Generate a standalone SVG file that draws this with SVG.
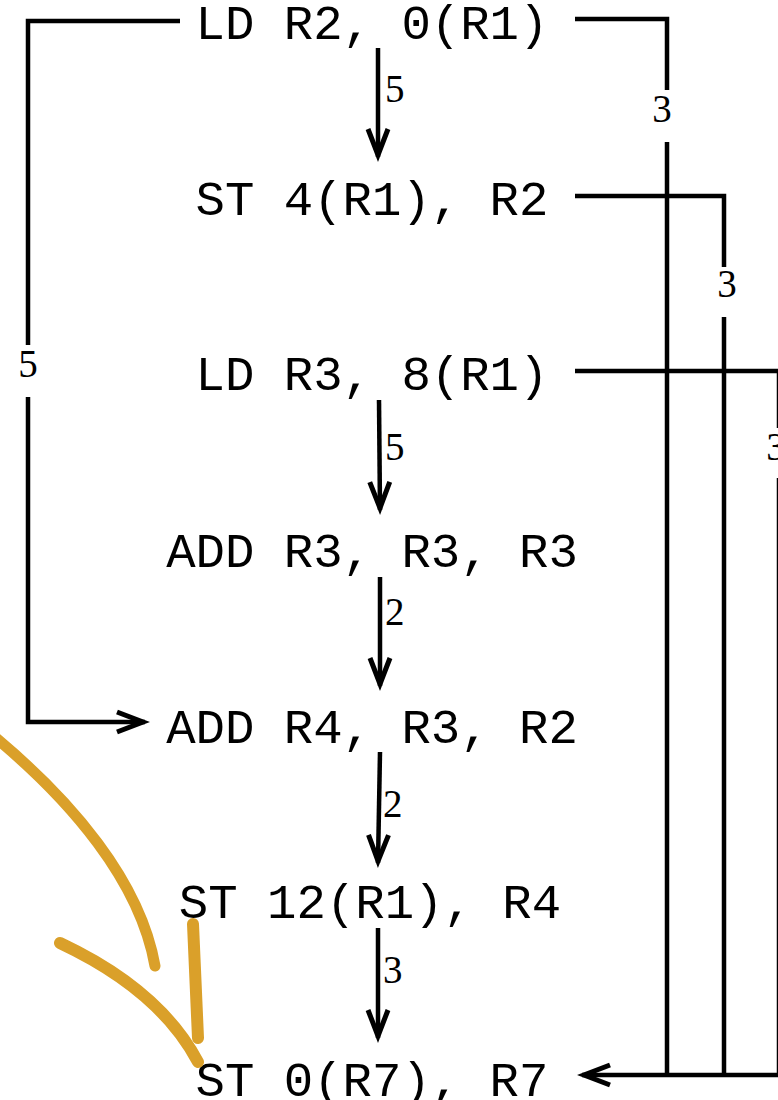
<svg xmlns="http://www.w3.org/2000/svg" width="778" height="1100" viewBox="0 0 778 1100">
  <defs>
    <style>
      .instr { font-family: "Liberation Mono", "Courier New", monospace; font-size: 49px; fill: #000; text-anchor: middle; }
      .lat { font-family: "Liberation Serif", "Times New Roman", serif; font-size: 39px; fill: #000; }
      .wire { fill: none; stroke: #000; stroke-width: 4.5; stroke-linejoin: miter; }
      .ink { fill: none; stroke: #DAA02A; stroke-linecap: round; }
    </style>
    <marker id="head" markerUnits="userSpaceOnUse" markerWidth="40" markerHeight="30" viewBox="-30 -15 40 30" refX="2" refY="0" orient="auto">
      <path d="M-26,-10 L0,0 L-26,10" fill="none" stroke="#000" stroke-width="5" stroke-linejoin="miter"/>
    </marker>
    <filter id="soft" x="-10%" y="-10%" width="120%" height="120%">
      <feGaussianBlur stdDeviation="0.7"/>
    </filter>
  </defs>

  <rect width="778" height="1100" fill="#fff"/>

  <!-- dependence edges -->
  <g id="connectors">
    <path class="wire" d="M378,48 V157" marker-end="url(#head)"/>
    <path class="wire" d="M379,400 L380,510" marker-end="url(#head)"/>
    <path class="wire" d="M380,577 V686" marker-end="url(#head)"/>
    <path class="wire" d="M380,752 L378,863" marker-end="url(#head)"/>
    <path class="wire" d="M378,928 V1038" marker-end="url(#head)"/>

    <path class="wire" d="M180,21 H28 V345"/>
    <path class="wire" d="M28,397 V722 H145" marker-end="url(#head)"/>

    <path class="wire" d="M575,19 H667 V90"/>
    <path class="wire" d="M667,142 V1075"/>
    <path class="wire" d="M575,196 H724 V267"/>
    <path class="wire" d="M724,317 V1075"/>
    <path class="wire" d="M575,371 H779 V428"/>
    <path class="wire" d="M779,478 V1075"/>
    <path class="wire" d="M781,1075 H582" marker-end="url(#head)"/>

    <text class="lat" x="385" y="102">5</text>
    <text class="lat" x="385" y="460">5</text>
    <text class="lat" x="385" y="625">2</text>
    <text class="lat" x="383" y="817">2</text>
    <text class="lat" x="383" y="983">3</text>
    <text class="lat" x="28" y="377" text-anchor="middle">5</text>
    <text class="lat" x="662" y="122" text-anchor="middle">3</text>
    <text class="lat" x="727" y="297" text-anchor="middle">3</text>
    <text class="lat" x="776" y="460" text-anchor="middle">3</text>
  </g>

  <!-- instructions -->
  <g id="n1"><text class="instr" x="372" y="39">LD R2, 0(R1)</text></g>
  <g id="n2"><text class="instr" x="372" y="215">ST 4(R1), R2</text></g>
  <g id="n3"><text class="instr" x="372" y="390">LD R3, 8(R1)</text></g>
  <g id="n4"><text class="instr" x="372" y="567">ADD R3, R3, R3</text></g>
  <g id="n5"><text class="instr" x="372" y="743">ADD R4, R3, R2</text></g>
  <g id="n6"><text class="instr" x="370" y="918">ST 12(R1), R4</text></g>
  <g id="n7"><text class="instr" x="372" y="1096">ST 0(R7), R7</text></g>

  <!-- hand-drawn pointer -->
  <g id="pointer" filter="url(#soft)">
    <path class="ink" stroke-width="11" d="M-4,738 C70,800 140,880 155,966"/>
    <path class="ink" stroke-width="12" d="M60,943 Q160,990 198,1062"/>
    <path class="ink" stroke-width="12" d="M193,924 L198,1038"/>
  </g>
</svg>
